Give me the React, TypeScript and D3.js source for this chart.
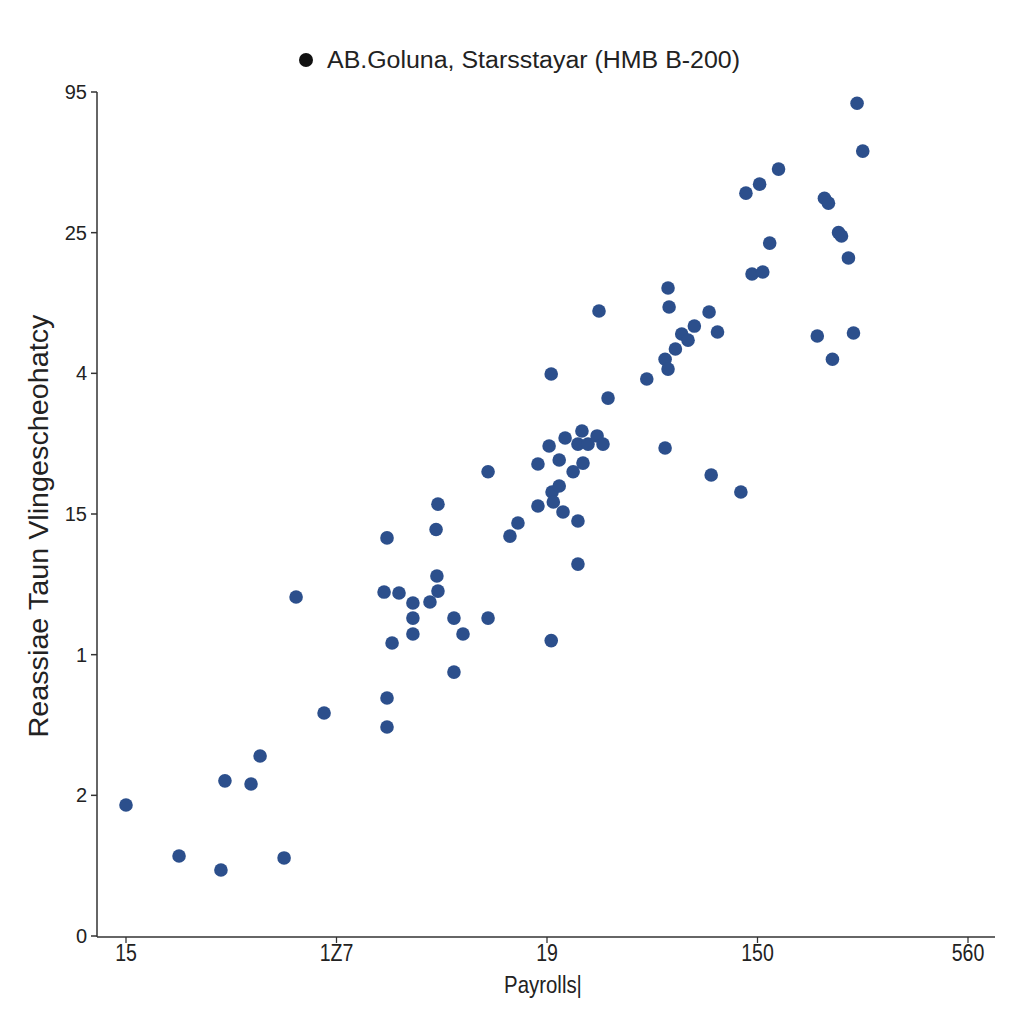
import React from "react";
import * as d3 from "d3";

const title = "AB.Goluna, Starsstayar (HMB B-200)";
const xLabel = "Payrolls|";
const yLabel = "Reassiae Taun Vlingescheohatcy";
const xTickLabels = ["15", "1Z7", "19", "150", "560"];
const yTickLabels = ["0", "2", "1", "15", "4", "25", "95"];

// positions in tick-index units
const xs = [0.0, 0.252, 0.451, 0.47, 0.594, 0.637, 0.751, 0.808, 0.941, 1.24, 1.226, 1.297, 1.24, 1.24, 1.264, 1.363, 1.363, 1.363, 1.444, 1.473, 1.482, 1.477, 1.482, 1.558, 1.601, 1.558, 1.72, 1.72, 1.824, 1.862, 1.957, 1.957, 2.01, 2.02, 2.02, 2.024, 2.03, 2.058, 2.058, 2.076, 2.086, 2.124, 2.147, 2.147, 2.147, 2.166, 2.171, 2.195, 2.238, 2.247, 2.266, 2.29, 2.474, 2.561, 2.561, 2.575, 2.575, 2.58, 2.61, 2.64, 2.67, 2.7, 2.77, 2.78, 2.81, 2.921, 2.945, 2.974, 3.01, 3.025, 3.058, 3.1, 3.284, 3.318, 3.337, 3.356, 3.385, 3.399, 3.432, 3.456, 3.473, 3.5];
const ys = [0.931, 0.569, 0.469, 1.103, 1.081, 1.28, 0.555, 2.41, 1.585, 2.83, 2.445, 2.438, 1.692, 1.486, 2.083, 2.367, 2.26, 2.147, 2.374, 2.89, 3.07, 2.559, 2.452, 2.26, 2.147, 1.876, 3.3, 2.26, 2.843, 2.936, 3.057, 3.355, 3.483, 3.995, 2.1, 3.156, 3.085, 3.199, 3.384, 3.014, 3.54, 3.3, 3.497, 2.95, 2.644, 3.59, 3.362, 3.497, 3.555, 4.443, 3.497, 3.824, 3.96, 4.1, 3.469, 4.03, 4.607, 4.472, 4.173, 4.28, 4.236, 4.336, 4.436, 3.277, 4.294, 3.156, 5.281, 4.706, 5.345, 4.72, 4.926, 5.452, 4.265, 5.245, 5.21, 4.1, 5.0, 4.976, 4.82, 4.287, 5.92, 5.58];

export default function App() {
  const W = 1024, H = 1024;
  const x = d3.scaleLinear().domain([0, 4]).range([126, 968]);
  const y = d3.scaleLinear().domain([0, 6]).range([936, 92]);
  const x0 = 97, x1 = 995, yB = 937, yT = 92;
  const pts = xs.map((v, i) => ({ x: v, y: ys[i] }));
  const axisColor = "#333";
  const font = "'Liberation Sans', Arial, sans-serif";
  return (
    <svg width={W} height={H} style={{ position: "absolute", left: 0, top: 0, background: "#fff" }}>
      <rect width={W} height={H} fill="#fff" />
      {/* title */}
      <circle cx={306} cy={60} r={7} fill="#111" />
      <text x={327} y={68} fontSize={23} fontFamily={font} fill="#222" textLength={413} lengthAdjust="spacingAndGlyphs">{title}</text>
      {/* axes */}
      <line x1={x0} y1={yT} x2={x0} y2={yB} stroke={axisColor} strokeWidth={1.5} />
      <line x1={x0} y1={yB} x2={x1} y2={yB} stroke={axisColor} strokeWidth={1.5} />
      {yTickLabels.map((t, i) => (
        <g key={"y" + i}>
          <line x1={x0 - 6} x2={x0} y1={y(i)} y2={y(i)} stroke={axisColor} strokeWidth={1.5} />
          <text x={x0 - 10} y={y(i) + 7} fontSize={20} fontFamily={font} textAnchor="end" fill="#222">{t}</text>
        </g>
      ))}
      {xTickLabels.map((t, i) => (
        <g key={"x" + i} transform={`translate(${x(i)},${yB + 24}) scale(0.85,1)`}>
          <line x1={0} x2={0} y1={-24} y2={-18} stroke={axisColor} strokeWidth={1.5} />
          <text x={0} y={0} fontSize={23} fontFamily={font} textAnchor="middle" fill="#222">{t}</text>
        </g>
      ))}
      <g transform={`translate(543,993) scale(0.85,1)`}>
        <text x={0} y={0} fontSize={24} fontFamily={font} textAnchor="middle" fill="#222">{xLabel}</text>
      </g>
      <text transform={`translate(48,526) rotate(-90)`} fontSize={27} fontFamily={font} textAnchor="middle" fill="#222" textLength={423} lengthAdjust="spacingAndGlyphs">{yLabel}</text>
      {pts.map((p, i) => (
        <circle key={i} cx={x(p.x)} cy={y(p.y)} r={6.8} fill="#2c4f8c" />
      ))}
    </svg>
  );
}
